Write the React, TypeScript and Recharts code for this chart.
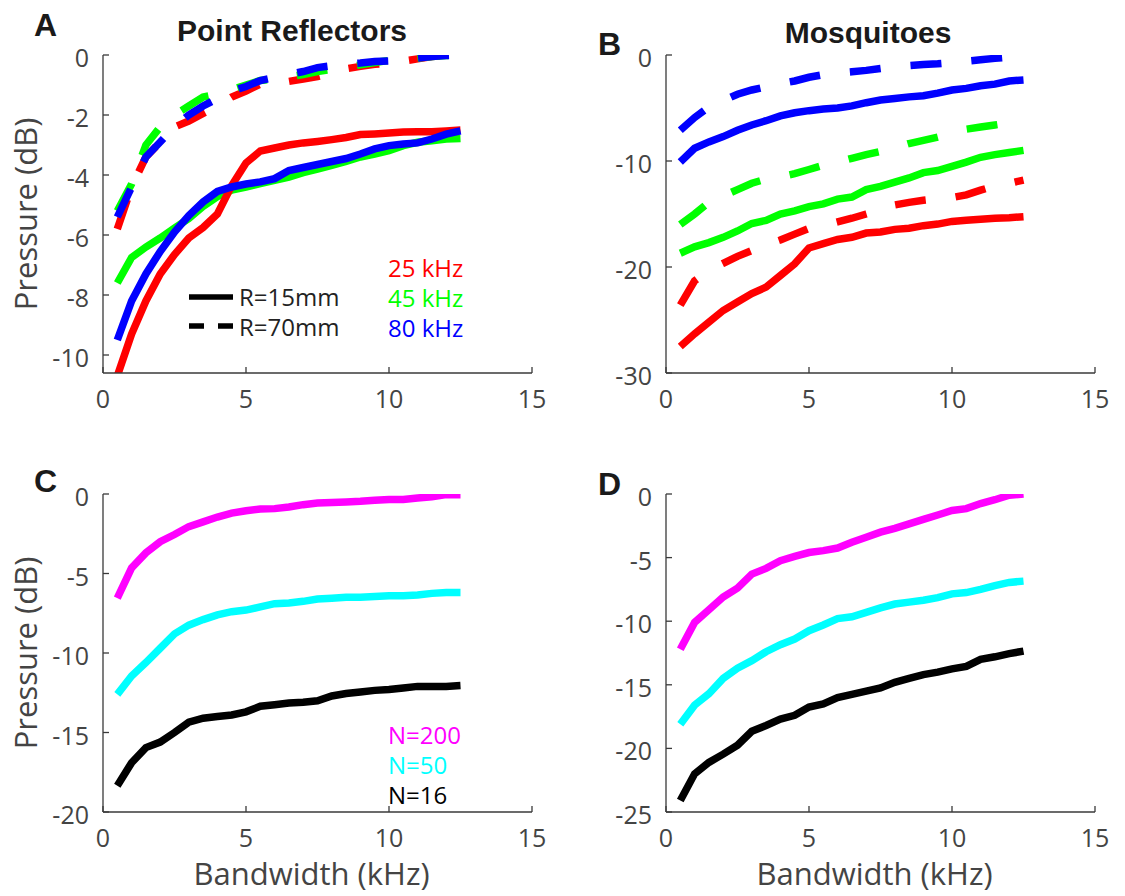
import { Line, LineChart, XAxis, YAxis } from 'recharts'

// bandwidth samples (kHz), shared by all panels
const bandwidth = [
  0.5, 1, 1.5, 2, 2.5, 3, 3.5, 4, 4.5, 5, 5.5, 6, 6.5, 7, 7.5, 8, 8.5, 9, 9.5,
  10, 10.5, 11, 11.5, 12, 12.5,
]

// A: point reflectors, R=15mm (solid) / R=70mm (dashed)
const pr25Near = [-10.7, -9.3, -8.2, -7.3, -6.65, -6.1, -5.75, -5.3, -4.35, -3.6, -3.2, -3.1, -3.0, -2.93, -2.88, -2.82, -2.75, -2.65, -2.63, -2.6, -2.57, -2.56, -2.56, -2.53, -2.5]
const pr45Near = [-7.6, -6.75, -6.4, -6.1, -5.77, -5.45, -5.05, -4.72, -4.5, -4.4, -4.29, -4.18, -4.07, -3.92, -3.8, -3.68, -3.55, -3.4, -3.3, -3.19, -3.02, -2.91, -2.86, -2.8, -2.78]
const pr80Near = [-9.5, -8.2, -7.3, -6.55, -5.9, -5.35, -4.9, -4.55, -4.4, -4.3, -4.23, -4.12, -3.85, -3.75, -3.65, -3.55, -3.45, -3.3, -3.13, -3.02, -2.97, -2.93, -2.8, -2.64, -2.53]
const pr25Far = [-5.8, -4.4, -3.4, -2.9, -2.4, -2.2, -1.95, -1.7, -1.4, -1.2, -0.97, -0.93, -0.88, -0.8, -0.72, -0.6, -0.46, -0.38, -0.31, -0.27, -0.2, -0.13, -0.05, 0, 0]
const pr45Far = [-5.2, -4.3, -3.0, -2.4, -2.0, -1.7, -1.4, -1.3, -1.15, -1.0, -0.85, -0.8, -0.72, -0.65, -0.55, -0.48, -0.4, -0.33, -0.25, -0.18, -0.15, -0.1, -0.05, -0.02, 0]
const pr80Far = [-5.4, -4.4, -3.4, -2.9, -2.4, -2.0, -1.7, -1.45, -1.2, -1.05, -0.85, -0.75, -0.65, -0.55, -0.42, -0.36, -0.3, -0.27, -0.22, -0.2, -0.15, -0.1, -0.05, -0.02, 0]

// B: mosquitoes
const mq25Near = [-27.5, -26.3, -25.2, -24.1, -23.3, -22.5, -21.9, -20.8, -19.7, -18.2, -17.8, -17.4, -17.2, -16.8, -16.7, -16.45, -16.35, -16.1, -15.95, -15.7, -15.6, -15.5, -15.4, -15.35, -15.25]
const mq45Near = [-18.7, -18.1, -17.7, -17.2, -16.6, -15.9, -15.6, -15.0, -14.7, -14.3, -14.05, -13.6, -13.4, -12.7, -12.4, -12.0, -11.6, -11.1, -10.9, -10.5, -10.1, -9.65, -9.4, -9.2, -9.0]
const mq80Near = [-10.1, -8.8, -8.2, -7.7, -7.1, -6.6, -6.2, -5.75, -5.45, -5.25, -5.1, -5.0, -4.8, -4.5, -4.25, -4.1, -3.95, -3.85, -3.6, -3.3, -3.15, -2.9, -2.75, -2.45, -2.35]
const mq25Far = [-23.6, -21.3, -20.3, -19.65, -19.0, -18.45, -17.9, -17.45, -16.9, -16.35, -16.1, -15.75, -15.4, -15.0, -14.6, -14.15, -13.9, -13.7, -13.55, -13.45, -13.2, -12.75, -12.35, -12.1, -11.8]
const mq45Far = [-16.0, -15.0, -13.9, -13.3, -12.7, -12.1, -11.7, -11.5, -11.2, -10.8, -10.4, -10.1, -9.75, -9.4, -9.1, -8.75, -8.35, -8.05, -7.75, -7.4, -7.0, -6.8, -6.6, -6.4, -6.2]
const mq80Far = [-7.1, -5.9, -4.9, -4.3, -3.7, -3.3, -3.0, -2.7, -2.45, -2.1, -1.85, -1.7, -1.58, -1.45, -1.28, -1.1, -1.0, -0.9, -0.83, -0.72, -0.58, -0.45, -0.32, -0.2, -0.1]

// C: point reflectors, number of elements
const prN200 = [-6.55, -4.65, -3.7, -3.0, -2.55, -2.05, -1.75, -1.45, -1.2, -1.05, -0.95, -0.92, -0.82, -0.67, -0.57, -0.53, -0.5, -0.46, -0.4, -0.34, -0.34, -0.25, -0.17, -0.04, -0.04]
const prN50 = [-12.6, -11.45, -10.6, -9.7, -8.8, -8.25, -7.9, -7.6, -7.4, -7.3, -7.1, -6.9, -6.85, -6.75, -6.6, -6.55, -6.5, -6.5, -6.45, -6.4, -6.4, -6.35, -6.25, -6.2, -6.2]
const prN16 = [-18.35, -16.9, -15.95, -15.6, -15.0, -14.35, -14.1, -14.0, -13.9, -13.7, -13.35, -13.25, -13.15, -13.1, -13.0, -12.7, -12.55, -12.45, -12.35, -12.3, -12.2, -12.1, -12.1, -12.1, -12.05]

// D: mosquitoes, number of elements
const mqN200 = [-12.2, -10.1, -9.1, -8.1, -7.4, -6.3, -5.85, -5.25, -4.9, -4.6, -4.45, -4.25, -3.8, -3.4, -3.0, -2.7, -2.35, -2.0, -1.65, -1.3, -1.15, -0.75, -0.45, -0.1, 0]
const mqN50 = [-18.1, -16.6, -15.7, -14.5, -13.7, -13.1, -12.4, -11.85, -11.4, -10.75, -10.3, -9.8, -9.65, -9.3, -8.95, -8.65, -8.5, -8.35, -8.15, -7.85, -7.75, -7.5, -7.2, -6.95, -6.85]
const mqN16 = [-24.1, -22.0, -21.1, -20.45, -19.75, -18.65, -18.2, -17.7, -17.4, -16.75, -16.5, -16.0, -15.75, -15.5, -15.25, -14.8, -14.5, -14.2, -14.0, -13.75, -13.55, -13.0, -12.8, -12.55, -12.35]

const xTicks = [0, 5, 10, 15]
const yTicksA = [-10, -8, -6, -4, -2, 0]
const yTicksB = [-30, -20, -10, 0]
const yTicksC = [-20, -15, -10, -5, 0]
const yTicksD = [-25, -20, -15, -10, -5, 0]

const RED = '#ff0000'
const GREEN = '#00ff00'
const BLUE = '#0000ff'
const MAGENTA = '#ff00ff'
const CYAN = '#00ffff'
const BLACK = '#000000'

const SANS = '"Open Sans", "Noto Sans", sans-serif'
const BOLD = '"Liberation Sans", Arial, sans-serif'
const GREY = '#444444'
const DASH = '31 30'

type Series = { key: string; values: number[]; color: string; dashed?: boolean }

function XTick({ x, y, payload }: any) {
  return (
    <text x={x} y={y} dy="0.72em" textAnchor="middle" fill={GREY} fontSize={25} fontFamily={SANS}>
      {payload.value}
    </text>
  )
}

function YTick({ x, y, payload }: any) {
  return (
    <text x={x} y={y + 3} dy="0.36em" textAnchor="end" fill={GREY} fontSize={25} fontFamily={SANS}>
      {payload.value}
    </text>
  )
}

interface PanelProps {
  left: number
  top: number
  width: number
  height: number
  plotLeft: number
  plotRight: number
  plotTop: number
  plotBottom: number
  series: Series[]
  yDomain: [number, number]
  yTicks: number[]
  xTitle?: boolean
  yTitle?: boolean
}

function Panel(p: PanelProps) {
  const rows = bandwidth.map((bw, i) => {
    const row: Record<string, number> = { bw }
    p.series.forEach((s) => {
      row[s.key] = s.values[i]
    })
    return row
  })
  const midY = (p.plotTop + p.plotBottom) / 2
  const midX = (p.plotLeft + p.plotRight) / 2 - 6

  return (
    <div style={{ position: 'absolute', left: p.left, top: p.top }}>
      <LineChart
        width={p.width}
        height={p.height}
        data={rows}
        margin={{ top: p.plotTop, right: p.width - p.plotRight, bottom: 0, left: 0 }}
      >
        <XAxis
          dataKey="bw"
          type="number"
          domain={[0, 15]}
          ticks={xTicks}
          interval={0}
          height={p.height - p.plotBottom}
          stroke="#3a3a3a"
          strokeWidth={1.3}
          tickSize={-6}
          tickMargin={23}
          tick={<XTick />}
          label={
            p.xTitle
              ? () => (
                  <text x={midX} y={p.plotBottom + 73} textAnchor="middle" fill={GREY} fontSize={31} fontFamily={SANS}>
                    Bandwidth (kHz)
                  </text>
                )
              : undefined
          }
        />
        <YAxis
          type="number"
          domain={p.yDomain}
          ticks={p.yTicks}
          interval={0}
          allowDataOverflow
          width={p.plotLeft}
          stroke="#3a3a3a"
          strokeWidth={1.3}
          tickSize={-6}
          tickMargin={20}
          tick={<YTick />}
          label={
            p.yTitle
              ? () => (
                  <text
                    x={37}
                    y={midY}
                    transform={`rotate(-90 37 ${midY})`}
                    textAnchor="middle"
                    fill={GREY}
                    fontSize={31}
                    fontFamily={SANS}
                  >
                    Pressure (dB)
                  </text>
                )
              : undefined
          }
        />
        {p.series.map((s) => (
          <Line
            key={s.key}
            dataKey={s.key}
            type="linear"
            stroke={s.color}
            strokeWidth={7.5}
            strokeDasharray={s.dashed ? DASH : undefined}
            dot={false}
            activeDot={false}
            isAnimationActive={false}
          />
        ))}
      </LineChart>
    </div>
  )
}

export default function App() {
  return (
    <div style={{ position: 'absolute', left: 0, top: 0, width: 1125, height: 896, background: '#fff' }}>
      <Panel
        left={0}
        top={0}
        width={560}
        height={440}
        plotLeft={103}
        plotRight={532}
        plotTop={55}
        plotBottom={373}
        yDomain={[-10.6, 0]}
        yTicks={yTicksA}
        yTitle
        series={[
          { key: 'r25f', values: pr25Far, color: RED, dashed: true },
          { key: 'r45f', values: pr45Far, color: GREEN, dashed: true },
          { key: 'r80f', values: pr80Far, color: BLUE, dashed: true },
          { key: 'r45n', values: pr45Near, color: GREEN },
          { key: 'r25n', values: pr25Near, color: RED },
          { key: 'r80n', values: pr80Near, color: BLUE },
        ]}
      />
      <Panel
        left={560}
        top={0}
        width={565}
        height={440}
        plotLeft={106}
        plotRight={535}
        plotTop={55}
        plotBottom={373}
        yDomain={[-30, 0]}
        yTicks={yTicksB}
        series={[
          { key: 'm25n', values: mq25Near, color: RED },
          { key: 'm45n', values: mq45Near, color: GREEN },
          { key: 'm80n', values: mq80Near, color: BLUE },
          { key: 'm25f', values: mq25Far, color: RED, dashed: true },
          { key: 'm45f', values: mq45Far, color: GREEN, dashed: true },
          { key: 'm80f', values: mq80Far, color: BLUE, dashed: true },
        ]}
      />
      <Panel
        left={0}
        top={440}
        width={560}
        height={456}
        plotLeft={103}
        plotRight={532}
        plotTop={54}
        plotBottom={372}
        yDomain={[-20, 0]}
        yTicks={yTicksC}
        xTitle
        yTitle
        series={[
          { key: 'n200', values: prN200, color: MAGENTA },
          { key: 'n50', values: prN50, color: CYAN },
          { key: 'n16', values: prN16, color: BLACK },
        ]}
      />
      <Panel
        left={560}
        top={440}
        width={565}
        height={456}
        plotLeft={106}
        plotRight={535}
        plotTop={54}
        plotBottom={372}
        yDomain={[-25, 0]}
        yTicks={yTicksD}
        xTitle
        series={[
          { key: 'n200', values: mqN200, color: MAGENTA },
          { key: 'n50', values: mqN50, color: CYAN },
          { key: 'n16', values: mqN16, color: BLACK },
        ]}
      />

      {/* panel letters, titles and legends */}
      <svg width={1125} height={896} style={{ position: 'absolute', left: 0, top: 0, pointerEvents: 'none' }}>
        <g fontFamily={BOLD} fontWeight="bold" fill="#1a1a1a">
          <text x={34} y={36} fontSize={32}>A</text>
          <text x={598} y={55} fontSize={32}>B</text>
          <text x={34} y={492} fontSize={32}>C</text>
          <text x={598} y={495} fontSize={32}>D</text>
          <text x={292} y={41} fontSize={30} textAnchor="middle">Point Reflectors</text>
          <text x={868} y={43} fontSize={30} textAnchor="middle">Mosquitoes</text>
        </g>
        <g fontFamily={SANS} fontSize={24}>
          <line x1={189} y1={297} x2={233} y2={297} stroke="#000" strokeWidth={5.5} />
          <line x1={189} y1={326} x2={233} y2={326} stroke="#000" strokeWidth={5.5} strokeDasharray="15 14" />
          <text x={239} y={306} fill="#222">R=15mm</text>
          <text x={239} y={336} fill="#222">R=70mm</text>
          <text x={388} y={277} fill={RED}>25 kHz</text>
          <text x={388} y={307} fill={GREEN}>45 kHz</text>
          <text x={388} y={337} fill={BLUE}>80 kHz</text>
          <text x={388} y={744} fill={MAGENTA}>N=200</text>
          <text x={388} y={774} fill={CYAN}>N=50</text>
          <text x={388} y={804} fill={BLACK}>N=16</text>
        </g>
      </svg>
    </div>
  )
}
